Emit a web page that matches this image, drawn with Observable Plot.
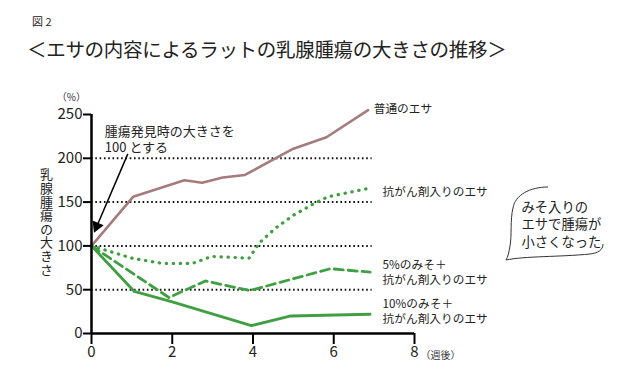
<!DOCTYPE html>
<html>
<head>
<meta charset="utf-8">
<script src="https://cdn.jsdelivr.net/npm/d3@7"></script>
<script src="https://cdn.jsdelivr.net/npm/@observablehq/plot@0.6"></script>
<style>
  body { margin: 0; background: #fff; font-family: "Noto Sans CJK JP", "Noto Sans", sans-serif; color: #222; }
  #wrap { position: relative; width: 640px; height: 389px; overflow: hidden; }
  #fig { position: absolute; left: 32px; top: 13px; font-size: 11px; }
  #title { position: absolute; left: 27px; top: 34px; font-size: 19.5px; letter-spacing: -0.3px; }
  #ytitle { position: absolute; left: 39px; top: 168px; font-size: 13px; line-height: 14px;
            writing-mode: vertical-rl; text-orientation: upright; letter-spacing: 0.6px; white-space: nowrap; }
  #chart { position: absolute; left: 0; top: 70px; }
  #bubble { position: absolute; left: 0; top: 0; }
</style>
</head>
<body>
<div id="wrap">
  <div id="fig">図 2</div>
  <div id="title">＜エサの内容によるラットの乳腺腫瘍の大きさの推移＞</div>
  <div id="chart"></div>
  <div id="ytitle"></div>
  <svg id="bubble" width="640" height="389">
    <path d="M548,187 C530,187 515,195 513,208 C510,220 512,236 510,246 C509,252 508,257 506,260 C525,256 560,257 590,254 C598,253 603,250 603,244" fill="none" stroke="#333" stroke-width="1"/>
  </svg>
</div>
<script>
// Data (weeks, relative tumour size %)
const normalWeeks = [0, 1.03, 2.3, 2.74, 3.25, 3.8, 5.0, 5.82, 6.85];
const normalSize  = [100, 156, 175, 172, 178, 181, 211, 224, 255];

const drugWeeks = [0, 1.0, 1.75, 2.5, 2.98, 3.9, 4.17, 4.55, 5.0, 5.5, 5.85, 6.9];
const drugSize  = [100, 86, 80, 80, 88, 86, 104, 120, 135, 148, 156, 166];

const miso5Weeks = [0, 1.92, 2.82, 3.92, 5.92, 6.9];
const miso5Size  = [100, 41, 60, 49, 74, 70];

const miso10Weeks = [0, 1.06, 2.0, 3.96, 4.94, 6.9];
const miso10Size  = [100, 48, 36, 9, 20, 22];

const yTicks = [0, 50, 100, 150, 200, 250];
const xTicks = [0, 2, 4, 6, 8];
const gridValues = [50, 100, 150, 200];

const seriesLabels = [
  {x: 6.99, y: 257, text: "普通のエサ"},
  {x: 7.21, y: 163, text: "抗がん剤入りのエサ"},
  {x: 7.21, y: 71,  text: "5%のみそ＋\n抗がん剤入りのエサ"},
  {x: 7.21, y: 26,  text: "10%のみそ＋\n抗がん剤入りのエサ"}
];
const noteText = "腫瘍発見時の大きさを\n100 とする";
const bubbleText = "みそ入りの\nエサで腫瘍が\n小さくなった";
const yTitle = "乳腺腫瘍の大きさ";

// annotation arrow (data units)
const noteArrow = {x1: 0.9, y1: 205, x2: 0.1, y2: 119};
const arrowTip = {x: 0.13, y: 122.5};

const toRows = (xs, ys) => xs.map((x, i) => ({x, y: ys[i]}));

const brown = "#a57b7b";
const green = "#3f9f42";

const chart = Plot.plot({
  width: 640,
  height: 319,
  marginLeft: 91,
  marginRight: 226,
  marginTop: 44,
  marginBottom: 56,
  style: {fontFamily: "Noto Sans CJK JP", color: "#222", background: "transparent", overflow: "visible"},
  x: {domain: [0, 8], axis: null},
  y: {domain: [0, 250], axis: null},
  marks: [
    Plot.ruleY(gridValues, {x1: 0, x2: 6.95, stroke: "#111", strokeWidth: 2, strokeDasharray: "1.6,2.7"}),
    Plot.line(toRows(normalWeeks, normalSize), {x: "x", y: "y", stroke: brown, strokeWidth: 2.6}),
    Plot.line(toRows(drugWeeks, drugSize), {x: "x", y: "y", stroke: green, strokeWidth: 3.2, strokeDasharray: "0.4,6.6", strokeLinecap: "round"}),
    Plot.line(toRows(miso5Weeks, miso5Size), {x: "x", y: "y", stroke: green, strokeWidth: 2.8, strokeDasharray: "9,5"}),
    Plot.line(toRows(miso10Weeks, miso10Size), {x: "x", y: "y", stroke: green, strokeWidth: 2.8}),
    // axes
    Plot.ruleX([0], {y1: 0, y2: 250, stroke: "#000", strokeWidth: 2.5}),
    Plot.ruleY([0], {x1: 0, x2: 8, stroke: "#000", strokeWidth: 2.5}),
    Plot.axisY(yTicks, {tickSize: 8, tickPadding: 1, fontSize: 15, stroke: "#000", strokeWidth: 2, color: "#222"}),
    Plot.axisX(xTicks, {tickSize: 11, tickPadding: 2, fontSize: 15, stroke: "#000", strokeWidth: 2, color: "#222"}),
    Plot.text(["（%）"], {x: -0.5, y: 269, fontSize: 10, fill: "#333"}),
    Plot.text(["（週後）"], {x: 8.15, y: -25, fontSize: 10, fill: "#333", textAnchor: "start"}),
    // annotation arrow
    Plot.text([noteText], {x: 0.33, y: 222.5, fontSize: 13, lineHeight: 1.25, textAnchor: "start", fill: "#222"}),
    Plot.link([noteArrow], {x1: "x1", y1: "y1", x2: "x2", y2: "y2", stroke: "#000", strokeWidth: 1.5}),
    Plot.dot([arrowTip], {x: "x", y: "y", symbol: "triangle", r: 4.5, fill: "#000", stroke: "none", rotate: 203}),
    // series labels
    Plot.text(seriesLabels, {x: "x", y: "y", text: "text", fontSize: 11.7, lineHeight: 1.3, textAnchor: "start", fill: "#222"}),
    // bubble text
    Plot.text([bubbleText], {x: 10.65, y: 125.5, fontSize: 13.3, lineHeight: 1.32, textAnchor: "start", fill: "#222"})
  ]
});
document.getElementById("chart").appendChild(chart);
document.getElementById("ytitle").textContent = yTitle;
</script>
</body>
</html>
